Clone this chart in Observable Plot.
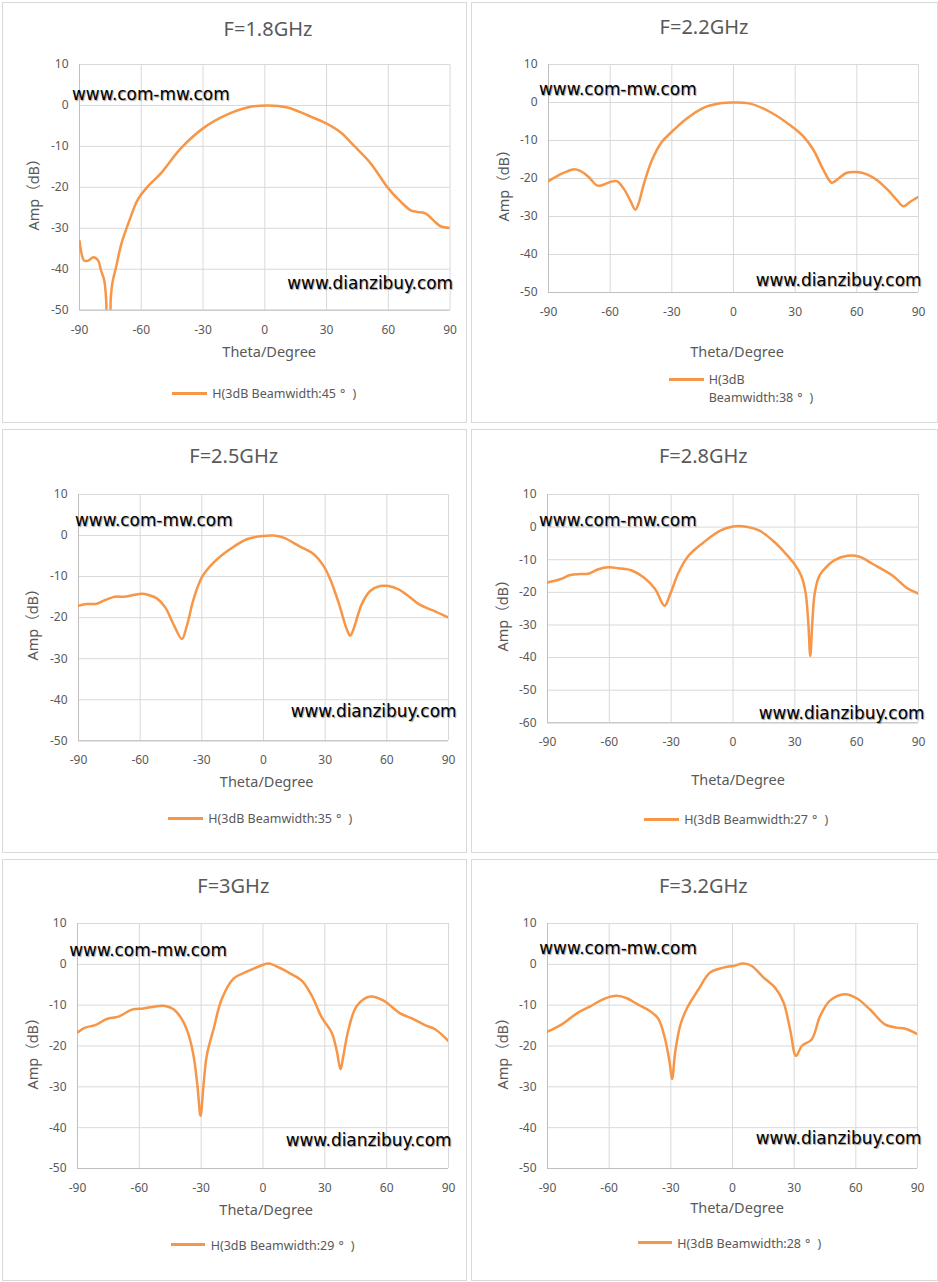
<!DOCTYPE html>
<html><head><meta charset="utf-8">
<script src="https://cdn.jsdelivr.net/npm/d3@7"></script>
<script src="https://cdn.jsdelivr.net/npm/@observablehq/plot@0.6"></script>
<style>
body{margin:0;background:#fff;width:938px;height:1282px;position:relative;overflow:hidden}
.box{position:absolute;border:1px solid #d9d9d9;box-sizing:border-box}
.t{position:absolute;white-space:pre;line-height:1;color:#595959;font-family:"Noto Sans","Noto Sans CJK SC",sans-serif}
.wm{position:absolute;white-space:pre;line-height:1;color:#000;font-family:"DejaVu Sans",sans-serif;font-size:16.5px;text-shadow:1px 1px 1px rgba(0,0,0,0.4)}
.sw{position:absolute;height:3px;background:#F79646}
.plot{position:absolute}
</style></head><body>
<script>
// ---- data ----
const xTicks = [-90, -60, -30, 0, 30, 60, 90];
const yTicksAll = [-60, -50, -40, -30, -20, -10, 0, 10];

const theta18 = [-90,-87.7,-85.8,-83.2,-80.9,-79.6,-78,-77,-76.5,-75.6,-74.8,-73.9,-72.2,-69.6,-65.7,-61.8,-57,-50.5,-40.8,-30,-18.1,-8.4,1.3,11,20.7,29.8,36.9,43.4,51.5,59.6,66,70.9,74.1,78.2,82.2,85.4,90];
const amp18 = [-33.1,-37.9,-37.9,-37.1,-37.9,-40.2,-42.7,-48,-56,-56,-47,-43,-39.4,-33.7,-28,-23.1,-19.9,-16.6,-10.5,-5.6,-2.2,-0.5,0,-0.5,-2.4,-4.4,-6.6,-9.9,-14.2,-20,-23.5,-25.6,-26,-26.4,-28.2,-29.5,-29.9];

const theta22 = [-90,-84.3,-77.8,-74.6,-70.5,-66.5,-64.1,-60,-56.8,-53.5,-50.3,-47.8,-46.2,-43.8,-39.7,-34.9,-30,-22.7,-14.6,-6.5,0,8.1,17.8,27.6,34.1,38.9,43.8,47.8,51.1,55.1,60,64.9,69.7,75.4,79.5,82.7,86,90];
const amp22 = [-20.7,-18.9,-17.6,-18,-19.6,-21.8,-21.8,-20.9,-20.7,-22.6,-25.7,-28.2,-26.6,-21.8,-15.2,-10.4,-7.7,-4.2,-1.4,-0.2,0,-0.3,-2.5,-6,-9,-12.5,-17.8,-21.1,-20,-18.5,-18.3,-18.9,-20.4,-23.2,-25.7,-27.3,-26.1,-24.8];

const theta25 = [-90,-85.9,-81.1,-77,-72.2,-68.1,-63.2,-59.2,-55.9,-51.9,-47.8,-43.8,-39.7,-37.3,-34,-30,-24.3,-16.2,-8.1,0,4.9,9.7,17.8,24.3,29.2,32.4,36.5,40.5,42.2,43.8,47.8,51.9,56.8,60.8,65.7,71.4,76.2,82.7,90];
const amp25 = [-17.1,-16.7,-16.6,-15.7,-14.9,-14.9,-14.5,-14.2,-14.5,-15.3,-17.5,-21.6,-25.2,-22,-15.5,-10.2,-6.6,-3.3,-0.9,-0.1,0,-0.5,-2.7,-4.5,-7.4,-10.6,-16.3,-22.8,-24.4,-22.8,-16.7,-13.5,-12.3,-12.3,-13.1,-15.1,-16.9,-18.3,-20];

const theta28 = [-90,-83.9,-79,-74.1,-70.1,-65.3,-60.4,-55.6,-49.1,-43.4,-37.8,-33.2,-30.5,-26.4,-21.6,-14.3,-6.2,0,6.5,12.9,19.4,25.1,29.9,33.1,35.2,36.5,37.5,38.5,39.6,41.5,43.6,49.3,55.7,61.4,67.8,77.5,84,90];
const amp28 = [-17,-16,-14.7,-14.4,-14.3,-12.9,-12.3,-12.6,-13.3,-15.4,-19,-24.1,-20.6,-13.9,-8.8,-4.7,-1.1,0.2,0.1,-1.1,-4.2,-7.8,-11.4,-14.9,-20,-29,-39.5,-29,-20.5,-15.5,-13.4,-10.1,-8.8,-9.1,-11.3,-14.9,-18.5,-20.4];

const theta30 = [-90,-86.3,-81.4,-75.8,-70.1,-63.6,-58,-52.3,-47.5,-43.4,-39.4,-36.2,-33.7,-31.8,-30.3,-28.9,-27.3,-24,-20,-14.3,-7.9,-1.4,2.6,8.3,13.1,18.8,23.7,28.5,33.3,35.8,37.6,39,41.5,45.5,52,58.5,66.5,73,78.6,83.5,90];
const amp30 = [-16.7,-15.5,-14.9,-13.4,-12.8,-11.1,-10.8,-10.3,-10.2,-11,-13.4,-17.1,-22.4,-29.8,-37.1,-29.8,-22.4,-15.9,-8.5,-3.5,-1.8,-0.4,0.2,-0.9,-2.2,-4,-7.7,-13,-16.7,-21.2,-25.7,-22.4,-15.9,-10.2,-7.9,-8.9,-12,-13.4,-14.9,-15.9,-18.8];

const theta32 = [-90,-83,-75.7,-69.2,-62.8,-56.3,-51.4,-46.5,-40,-36,-32.8,-30.6,-29.4,-27.9,-25.5,-22.2,-16.5,-10.9,-4.4,0.4,5.3,9.4,15,20.7,24.8,28,30.9,33.7,38.5,42.6,47.4,54.7,60.4,66.8,74.1,79.8,83.8,90];
const amp32 = [-16.5,-14.7,-12,-10.3,-8.5,-7.7,-8.3,-9.7,-11.5,-13.4,-18.3,-24,-28.1,-21.6,-15.1,-10.8,-6.1,-2,-0.8,-0.4,0.2,-0.4,-3.2,-5.7,-9.3,-15.9,-22.4,-20,-18.4,-12.7,-8.9,-7.3,-8.3,-11,-14.7,-15.5,-15.7,-17.1];

const titles = ["F=1.8GHz","F=2.2GHz","F=2.5GHz","F=2.8GHz","F=3GHz","F=3.2GHz"];
const beamwidths = [45, 38, 35, 27, 29, 28];
const yMins = [-50, -50, -50, -60, -50, -50];
const thetas = [theta18, theta22, theta25, theta28, theta30, theta32];
const amps = [amp18, amp22, amp25, amp28, amp30, amp32];

// ---- layout (page pixels) ----
const layout = [
  {box:[2,2,465,421], frame:[78.7,64.3,449.3,310], title:[268,36.7], xlab:[269.2,356.7], ylab:[33.3,191], sw:[172.3,206.7,393.3], lt:212.3, lb:[399.3], wm1:[72,100], wm2:[287.3,289.5]},
  {box:[471,2,467,421], frame:[548.3,64.3,918.3,292.3], title:[704,35], xlab:[737,356.7], ylab:[503.3,182], sw:[669,704.3,379], lt:708.7, lb:[385,402.8], wm1:[539,95.7], wm2:[755.7,286]},
  {box:[2,429,465,424], frame:[78.3,493.7,448.3,740], title:[233.7,464], xlab:[266.7,786.7], ylab:[31.7,620.8], sw:[168.3,203.3,818.3], lt:208.3, lb:[824.3], wm1:[75,526.7], wm2:[290.7,717]},
  {box:[471,429,467,424], frame:[547.3,493.7,918.3,722], title:[703.3,464], xlab:[738,785], ylab:[501.7,612], sw:[644.3,679.3,819], lt:684.3, lb:[825], wm1:[539,526.7], wm2:[758.7,719]},
  {box:[2,859,465,422], frame:[77.3,923,448.3,1168], title:[233.3,893.3], xlab:[266.2,1214.7], ylab:[31.7,1050], sw:[170.7,205,1244.7], lt:210.7, lb:[1250.7], wm1:[69.3,956], wm2:[285.7,1146]},
  {box:[471,859,467,422], frame:[547.3,923,917.3,1168], title:[703.3,893.3], xlab:[737,1213], ylab:[501.7,1050], sw:[638.3,672.3,1242.7], lt:677.3, lb:[1248.7], wm1:[539.3,954.7], wm2:[755.7,1144]}
];

const NOTO_BASE = 0.888, DEJAVU_BASE = 0.846;
const WM_SIZE = 16.9;
function el(cls, css) {
  const d = document.createElement("div");
  d.className = cls;
  Object.assign(d.style, css);
  document.body.appendChild(d);
  return d;
}
function text(cls, str, x, baseline, size, base, center) {
  const d = el(cls, {left: x + "px", top: (baseline - base * size) + "px", fontSize: size + "px"});
  if (center) d.style.transform = "translateX(-50%)";
  d.textContent = str;
  return d;
}

const ML = 45, MR = 15, MT = 12, MB = 30;

layout.forEach((L, i) => {
  el("box", {left: L.box[0] + "px", top: L.box[1] + "px", width: L.box[2] + "px", height: L.box[3] + "px"});

  const [fl, ft, fr, fb] = L.frame;
  const yTicks = yTicksAll.filter(v => v >= yMins[i]);
  const svg = Plot.plot({
    width: (fr - fl) + ML + MR,
    height: (fb - ft) + MT + MB,
    marginLeft: ML, marginRight: MR, marginTop: MT, marginBottom: MB,
    x: {domain: [-90, 90], ticks: xTicks, tickSize: 0, tickPadding: 15, tickFormat: d => String(d), label: null},
    y: {domain: [yMins[i], 10], ticks: yTicks, tickSize: 0, tickPadding: 11, tickFormat: d => String(d), label: null},
    style: {background: "transparent", color: "#595959", fontFamily: "Noto Sans", fontSize: "12px", overflow: "visible"},
    marks: [
      Plot.ruleX(xTicks, {stroke: "#d9d9d9", strokeWidth: 1}),
      Plot.ruleY(yTicks, {stroke: "#d9d9d9", strokeWidth: 1}),
      Plot.ruleX([-90], {stroke: "#bfbfbf", strokeWidth: 1}),
      Plot.ruleY([yMins[i]], {stroke: "#bfbfbf", strokeWidth: 1}),
      Plot.line(thetas[i], {x: thetas[i], y: amps[i], stroke: "#F79646", strokeWidth: 2.5, curve: "catmull-rom", clip: true})
    ]
  });
  const wrap = el("plot", {left: (fl - ML) + "px", top: (ft - MT) + "px"});
  wrap.appendChild(svg);

  // title, axis labels
  text("t", titles[i], L.title[0], L.title[1], 20, NOTO_BASE, true);
  text("t", "Theta/Degree", L.xlab[0], L.xlab[1], 14.5, NOTO_BASE, true);
  const yl = el("t", {left: L.ylab[0] + "px", top: L.ylab[1] + "px", fontSize: "14.5px",
    transform: "translate(-50%,-50%) rotate(-90deg)"});
  yl.textContent = "Amp（dB）";

  // legend
  el("sw", {left: L.sw[0] + "px", top: (L.sw[2] - 1.5) + "px", width: (L.sw[1] - L.sw[0]) + "px"});
  const lines = L.lb.length === 1
    ? ["H(3dB Beamwidth:" + beamwidths[i] + "°)"]
    : ["H(3dB", "Beamwidth:" + beamwidths[i] + "°)"];
  lines.forEach((s, k) => {
    const d = text("t", "", L.lt, L.lb[k], 12.5, NOTO_BASE, false);
    const parts = s.split("°");
    if (parts.length === 2) {
      d.appendChild(document.createTextNode(parts[0]));
      const sp = document.createElement("span");
      sp.style.margin = "0 7px 0 4px";
      sp.textContent = "°";
      d.appendChild(sp);
      d.appendChild(document.createTextNode(parts[1]));
    } else d.textContent = s;
  });

  // watermarks
  const w1 = text("wm", "www.com-mw.com", L.wm1[0], L.wm1[1], WM_SIZE, DEJAVU_BASE, false);
  const w2 = text("wm", "www.dianzibuy.com", L.wm2[0], L.wm2[1], WM_SIZE, DEJAVU_BASE, false);
  w1.style.fontSize = w2.style.fontSize = WM_SIZE + "px";
});
</script></body></html>
